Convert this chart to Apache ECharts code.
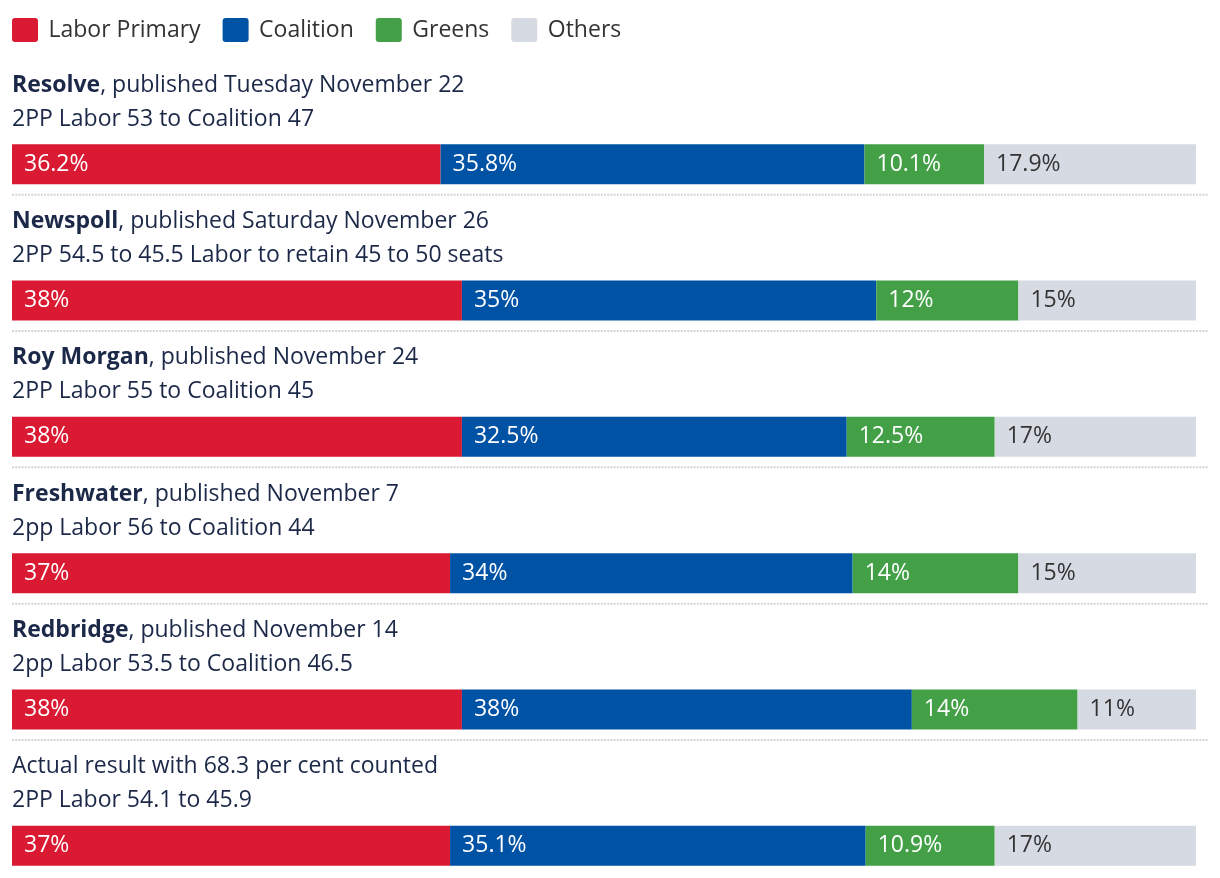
<!DOCTYPE html>
<html>
<head>
<meta charset="utf-8">
<script src="https://cdn.jsdelivr.net/npm/echarts@6/dist/echarts.min.js"></script>
<style>html,body{margin:0;padding:0;background:#fff}#c{width:1220px;height:878px}</style>
</head>
<body>
<div id="c"></div>
<script>
const pollsters = ['Resolve', 'Newspoll', 'Roy Morgan', 'Freshwater', 'Redbridge', ''];
const headlines = [', published Tuesday November 22', ', published Saturday November 26', ', published November 24', ', published November 7', ', published November 14', 'Actual result with 68.3 per cent counted'];
const details = ['2PP Labor 53 to Coalition 47', '2PP 54.5 to 45.5 Labor to retain 45 to 50 seats', '2PP Labor 55 to Coalition 45', '2pp Labor 56 to Coalition 44', '2pp Labor 53.5 to Coalition 46.5', '2PP Labor 54.1 to 45.9'];
const seriesNames = ['Labor Primary', 'Coalition', 'Greens', 'Others'];
const labor = [36.2, 38, 38, 37, 38, 37];
const coalition = [35.8, 35, 32.5, 34, 38, 35.1];
const greens = [10.1, 12, 12.5, 14, 14, 10.9];
const others = [17.9, 15, 17, 15, 11, 17];

const FONT = 'Open Sans';
const FS = 23;
const colors = ['#d91a32', '#0052a5', '#43a047', '#d6dae3'];
const labelColors = ['#fff', '#fff', '#fff', '#333'];
const values = [labor, coalition, greens, others];
const ICON = 'path://M3,0 H23 Q26,0 26,3 V21 Q26,24 23,24 H3 Q0,24 0,21 V3 Q0,0 3,0 Z';

const chart = echarts.init(document.getElementById('c'), null, {renderer: 'canvas'});
const option = {
  animation: false,
  textStyle: {fontFamily: FONT},
  color: colors,
  legend: {
    left: 7, top: 13, itemWidth: 27, itemHeight: 24, itemGap: 22,
    icon: ICON,
    textStyle: {fontSize: FS, color: '#333', fontFamily: FONT, padding: [0, 0, 0, 5]},
    data: seriesNames
  },
  grid: {left: 12, right: 24, top: 96, height: 818, outerBoundsMode: 'none', containLabel: false},
  xAxis: {type: 'value', min: 0, max: 100, show: false},
  yAxis: {type: 'category', inverse: true, data: pollsters.map((p, i) => 'row' + i), show: false},
  series: seriesNames.map((name, k) => ({
    name: name, type: 'bar', stack: 'total', barWidth: 40,
    itemStyle: {color: colors[k]},
    label: {
      show: true, position: 'insideLeft', distance: 12,
      formatter: p => p.value + '%',
      color: labelColors[k], fontSize: FS, fontFamily: FONT
    },
    data: values[k]
  }))
};
chart.setOption(option);

const g = [];
for (let i = 0; i < pollsters.length; i++) {
  const cy = chart.convertToPixel({yAxisIndex: 0}, 'row' + i);
  const line1 = pollsters[i] ? '{b|' + pollsters[i] + '}{n|' + headlines[i] + '}' : '{n|' + headlines[i] + '}';
  g.push({
    type: 'text', x: 12, y: cy - 79,
    style: {
      text: line1, fontFamily: FONT, fontSize: FS, fill: '#1c2848', verticalAlign: 'middle',
      rich: {
        b: {fontWeight: 'bold', fontSize: FS, fontFamily: FONT, fill: '#1c2848'},
        n: {fontSize: FS, fontFamily: FONT, fill: '#1c2848'}
      }
    }
  });
  g.push({
    type: 'text', x: 12, y: cy - 45,
    style: {text: details[i], fontFamily: FONT, fontSize: FS, fill: '#1c2848', verticalAlign: 'middle'}
  });
  if (i < pollsters.length - 1) {
    g.push({
      type: 'line',
      shape: {x1: 12, y1: cy + 30.5, x2: 1208, y2: cy + 30.5},
      style: {stroke: '#d4d4d4', lineWidth: 2, lineDash: [2, 1.2]}
    });
  }
}
chart.setOption({graphic: g});
</script>
</body>
</html>
